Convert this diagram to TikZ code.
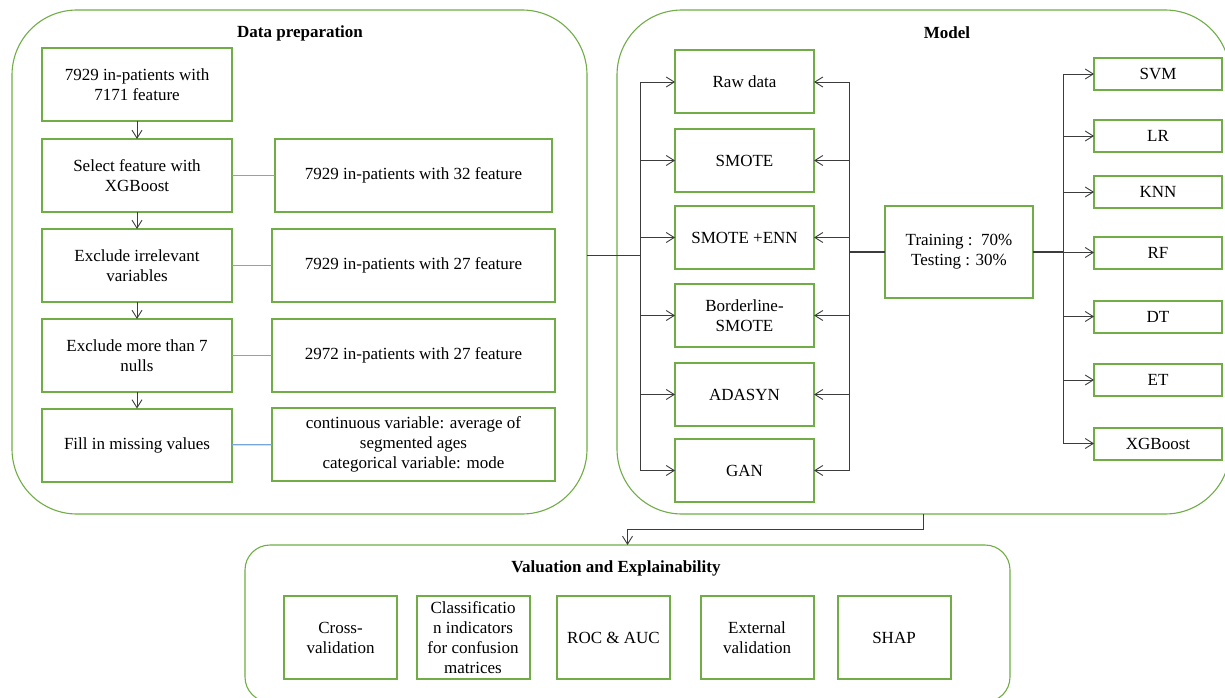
\documentclass[tikz,border=0pt]{standalone}
\usepackage{fontspec}
\setmainfont{Liberation Serif}
\usepackage{tikz}
\usetikzlibrary{arrows.meta}

\definecolor{boxgreen}{RGB}{112,173,71}
\definecolor{linkblue}{RGB}{120,165,218}
\definecolor{wiregray}{RGB}{60,60,60}

\begin{document}
\begin{tikzpicture}[x=1pt,y=-1pt,font=\fontsize{17}{20}\selectfont]
\tikzset{
    panel/.style={
              draw=boxgreen,
                   line width=1.1pt,
                   rounded corners=65pt,
                   outer sep=0pt
    },
    title/.style={
              font=\fontsize{17}{20}\selectfont\bfseries
    },
    stage/.style={
              draw=boxgreen,
                   line width=2pt,
                   fill=white,
                   align=center,
                   outer sep=0pt,
                   minimum width=190pt,
                   minimum height=73pt
    },
    result/.style={
              stage,
                   minimum width=283pt
    },
    method/.style={
              stage,
                   minimum width=139pt,
                   minimum height=63pt
    },
    clf/.style={
              stage,
                   minimum width=128pt,
                   minimum height=32pt
    },
    metric/.style={
              stage,
                   minimum width=113pt,
                   minimum height=83pt
    },
    wire/.style={
              draw=wiregray,
                   line width=0.9pt
    },
    flow/.style={
              wire,
                   -{Straight Barb[length=8pt,width=10pt]}
    },
    link/.style={
              draw=linkblue,
                   line width=1.2pt
    }
}
    \useasboundingbox (0,0) rectangle (1225,698);

    % containers
    \node (prep)[panel, minimum width=575pt, minimum height=504pt] at (299.5,262) {};
    \node (model)[panel, minimum width=613pt, minimum height=504pt] at (923.5,262) {};
    \node (eval)[panel, rounded corners=25pt, minimum width=765pt, minimum height=157pt] at (627.5,623.5) {};

    \node (prepT)[title] at (300,33) {Data preparation};
    \node (modelT)[title] at (947,33) {Model};
    \node (evalT)[title] at (616,568) {Valuation and Explainability};

    % data preparation
    \node (all)[stage] at (137,85) {7929 in-patients with\\7171 feature};
    \node (select)[stage] at (137,175.5) {Select feature with\\XGBoost};
    \node (irrel)[stage] at (137,265.5) {Exclude irrelevant\\variables};
    \node (nulls)[stage] at (137,355.5) {Exclude more than 7\\nulls};
    \node (fill)[stage] at (137,445) {Fill in missing values};

    \node (f32)[result, minimum width=277pt] at (413.5,175.5) {7929 in-patients with 32 feature};
    \node (f27)[result] at (413.5,265.5) {7929 in-patients with 27 feature};
    \node (p27)[result] at (413.5,355.5) {2972 in-patients with 27 feature};
    \node (impute)[result] at (413.5,444.5) {continuous variable: average of\\segmented ages\\categorical variable: mode};

    \draw[flow] (all) -- (select);
    \draw[flow] (select) -- (irrel);
    \draw[flow] (irrel) -- (nulls);
    \draw[flow] (nulls) -- (fill);

    \draw[link] (select) -- (f32);
    \draw[link] (irrel) -- (f27);
    \draw[link] (nulls) -- (p27);
    \draw[link] (fill) -- (impute);

    % resampling
    \node (raw)[method] at (744.5,82) {Raw data};
    \node (smote)[method] at (744.5,160.5) {SMOTE};
    \node (enn)[method] at (744.5,237.5) {SMOTE +ENN};
    \node (border)[method] at (744.5,315.5) {Borderline-\\SMOTE};
    \node (adasyn)[method] at (744.5,394.5) {ADASYN};
    \node (gan)[method] at (744.5,470.5) {GAN};

    \node (train)[stage, minimum width=148pt, minimum height=92pt] at (959,252) {Training :~~70\%\\Testing : 30\%};

    % classifiers
    \node (svm)[clf] at (1158,74) {SVM};
    \node (lr)[clf] at (1158,136) {LR};
    \node (knn)[clf] at (1158,192) {KNN};
    \node (rf)[clf] at (1158,252.5) {RF};
    \node (dt)[clf] at (1158,316.5) {DT};
    \node (et)[clf] at (1158,380) {ET};
    \node (xgbc)[clf] at (1158,443.5) {XGBoost};

    \coordinate (feed) at (587,255);
    \coordinate (lbus) at (640,255);
    \coordinate (rbus) at (849,252);
    \coordinate (cbus) at (1063,252);

    \draw[wire] (feed) -- (lbus);
    \draw[wire] (raw.west -| lbus) -- (gan.west -| lbus);
    \draw[flow] (raw.west -| lbus) -- (raw.west);
    \draw[flow] (smote.west -| lbus) -- (smote.west);
    \draw[flow] (enn.west -| lbus) -- (enn.west);
    \draw[flow] (border.west -| lbus) -- (border.west);
    \draw[flow] (adasyn.west -| lbus) -- (adasyn.west);
    \draw[flow] (gan.west -| lbus) -- (gan.west);

    \draw[wire, line width=1.6pt] (train.west) -- (rbus);
    \draw[wire] (raw.east -| rbus) -- (gan.east -| rbus);
    \draw[flow] (raw.east -| rbus) -- (raw.east);
    \draw[flow] (smote.east -| rbus) -- (smote.east);
    \draw[flow] (enn.east -| rbus) -- (enn.east);
    \draw[flow] (border.east -| rbus) -- (border.east);
    \draw[flow] (adasyn.east -| rbus) -- (adasyn.east);
    \draw[flow] (gan.east -| rbus) -- (gan.east);

    \draw[wire, line width=1.6pt] (train.east) -- (cbus);
    \draw[wire] (svm.west -| cbus) -- (xgbc.west -| cbus);
    \draw[flow] (svm.west -| cbus) -- (svm.west);
    \draw[flow] (lr.west -| cbus) -- (lr.west);
    \draw[flow] (knn.west -| cbus) -- (knn.west);
    \draw[flow] (rf.west -| cbus) -- (rf.west);
    \draw[flow] (dt.west -| cbus) -- (dt.west);
    \draw[flow] (et.west -| cbus) -- (et.west);
    \draw[flow] (xgbc.west -| cbus) -- (xgbc.west);

    \draw[flow] (model.south) -- ++(0,15) -| (eval.north);

    % evaluation
    \node (cv)[metric] at (340.5,637.5) {Cross-\\validation};
    \node (cls)[metric] at (473,637.5) {Classificatio\\n indicators\\for confusion\\matrices};
    \node (roc)[metric] at (613.5,637.5) {ROC \& AUC};
    \node (ext)[metric] at (757,637.5) {External\\validation};
    \node (shap)[metric] at (894,637.5) {SHAP};

\end{tikzpicture}
\end{document}
